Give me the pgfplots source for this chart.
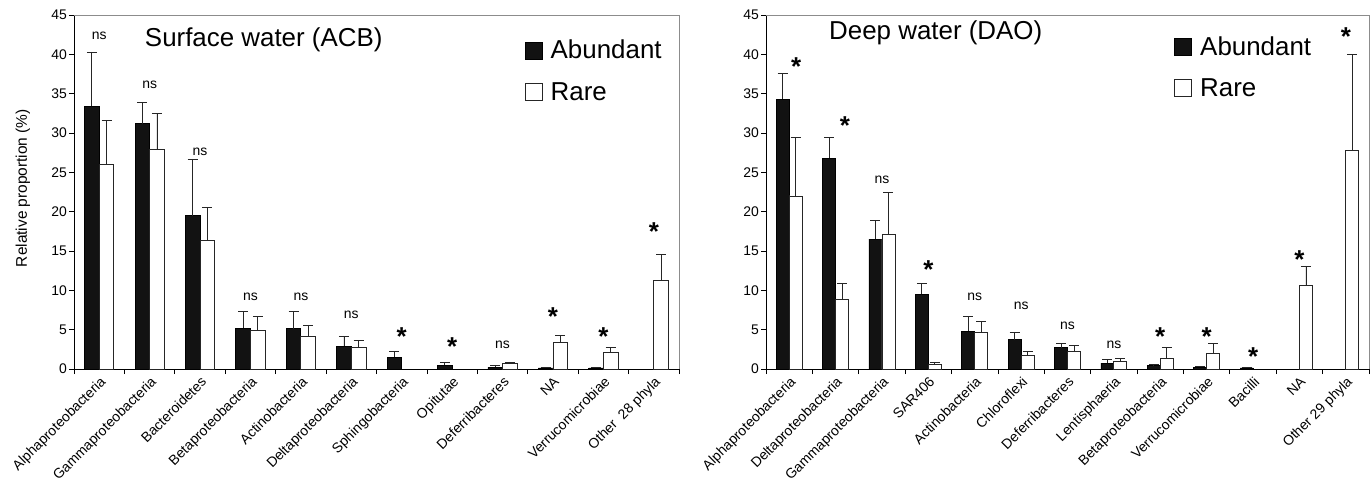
\documentclass[border=0pt]{standalone}
\usepackage{fontspec}
\setmainfont{Liberation Sans}
\usepackage{pgfplots}
\pgfplotsset{compat=1.18}

\pgfplotsset{
  mybase/.style={
    scale only axis, height=354bp, ymin=0, ymax=45, ytick={0,5,...,45},
    axis lines*=left, clip=false,
    tick align=outside, major tick length=5bp, minor tick length=5bp,
    major x tick style={draw=none},
    every tick/.style={black, line width=0.8bp},
    minor tick style={black, line width=0.8bp},
    axis line style={black, line width=0.8bp},
    /pgf/number format/assume math mode=true,
    yticklabel style={font=\fontsize{14}{16}\selectfont, inner sep=2bp},
    xticklabel style={rotate=45, anchor=north east, font=\fontsize{14}{16}\selectfont, inner sep=1bp},
    after end axis/.code={\draw[black!45, line width=0.8bp] (rel axis cs:0,1) -- (rel axis cs:1,1) -- (rel axis cs:1,0);},
    legend image code/.code={\draw[#1, line width=0.8bp] (0bp,0bp) rectangle (17bp,17bp);},
    legend style={draw=none, fill=none, font=\fontsize{26}{28}\selectfont, anchor=north west, inner sep=0pt, column sep=6bp, row sep=18bp, cells={anchor=base west, inner sep=0pt}},
  },
  errs/.style={error bars/.cd, y dir=plus, y explicit,
    error bar style={black!85, line width=0.8bp},
    error mark options={black!85, rotate=90, mark size=5bp, line width=0.8bp}},
  abund/.style={ybar, bar width=#1, bar shift=0pt, fill=black!93, draw=black, line width=0.8bp, errs},
  rare/.style={ybar, bar width=#1, bar shift=0pt, fill=white, draw=black!85, line width=0.8bp, errs},
  nslab/.style={draw=none, mark=none, forget plot, nodes near coords={ns},
    every node near coord/.append style={anchor=base, font=\fontsize{14}{14}\selectfont, inner sep=0pt}},
  starlab/.style={draw=none, mark=none, forget plot, nodes near coords={*},
    every node near coord/.append style={anchor=base, font=\bfseries\fontsize{26}{26}\selectfont, inner sep=0pt}},
}

\begin{document}
\begin{tikzpicture}
\useasboundingbox (0,0) rectangle (1372bp,481bp);

% ---------------- Surface water ----------------
\begin{axis}[mybase, at={(74bp,112bp)}, anchor=south west, width=605bp,
  xmin=-0.5, xmax=11.5,
  xtick={0,...,11},
  minor xtick={-0.5,0.5,...,11.5},
  xticklabels={Alphaproteobacteria, Gammaproteobacteria, Bacteroidetes, Betaproteobacteria, Actinobacteria, Deltaproteobacteria, Sphingobacteria, Opitutae, Deferribacteres, NA, Verrucomicrobiae, Other\ \ 28 phyla},
  ylabel={Relative proportion (\%)},
  every axis y label/.style={at={(axis description cs:-0.0843,0.511)}, rotate=90, anchor=center, font=\fontsize{15.5}{16}\selectfont},
  legend style={at={(rel axis cs:0.745,0.935)}},
]
\addplot[abund=0.29] table[x expr=\thisrow{x}-0.145, y=y, y error=e] {
x y e
0 33.4 6.9
1 31.2 2.7
2 19.5 7.2
3 5.2 2.1
4 5.1 2.2
5 2.9 1.3
6 1.5 0.7
7 0.47 0.38
8 0.2 0.2
9 0.13 0.07
10 0.13 0.07
};
\addlegendentry{Abundant}
\addplot[rare=0.29] table[x expr=\thisrow{x}+0.145, y=y, y error=e] {
x y e
0 26.0 5.6
1 27.9 4.6
2 16.3 4.2
3 4.9 1.8
4 4.2 1.4
5 2.75 0.85
8 0.72 0.18
9 3.4 0.9
10 2.15 0.55
11 11.3 3.3
};
\addlegendentry{Rare}
\addplot[nslab] table {
x y
0 41.85
1 35.65
2 27.15
3 8.75
4 8.75
5 6.45
8 2.65
};
\addplot[starlab] table {
x y
6 2.95
7 1.75
9 5.55
10 2.95
11 16.35
};
\node[anchor=base west, inner sep=0pt, font=\fontsize{26}{28}\selectfont] at (rel axis cs:0.117,0.910) {Surface water (ACB)};
\end{axis}

% ---------------- Deep water ----------------
\begin{axis}[mybase, at={(766bp,112bp)}, anchor=south west, width=603bp,
  xmin=-0.5, xmax=12.5,
  xtick={0,...,12},
  minor xtick={-0.5,0.5,...,12.5},
  xticklabels={Alphaproteobacteria, Deltaproteobacteria, Gammaproteobacteria, SAR406, Actinobacteria, Chloroflexi, Deferribacteres, Lentisphaeria, Betaproteobacteria, Verrucomicrobiae, Bacilli, NA, Other 29 phyla},
  legend style={at={(rel axis cs:0.677,0.946)}},
]
\addplot[abund=0.28] table[x expr=\thisrow{x}-0.14, y=y, y error=e] {
x y e
0 34.3 3.3
1 26.8 2.6
2 16.5 2.4
3 9.5 1.4
4 4.8 1.9
5 3.7 1.0
6 2.7 0.5
7 0.76 0.44
8 0.4 0.2
9 0.25 0.1
10 0.13 0.07
};
\addlegendentry{Abundant}
\addplot[rare=0.28] table[x expr=\thisrow{x}+0.14, y=y, y error=e] {
x y e
0 22.0 7.4
1 8.8 2.1
2 17.1 5.3
3 0.6 0.25
4 4.6 1.4
5 1.7 0.5
6 2.2 0.8
7 1.0 0.35
8 1.4 1.35
9 2.0 1.2
11 10.6 2.5
12 27.75 12.25
};
\addlegendentry{Rare}
\addplot[nslab] table {
x y
2 23.55
4 8.75
5 7.55
6 5.05
7 2.65
};
\addplot[starlab] table {
x y
0.15 37.35
1.2 29.85
3 11.45
8 2.95
9 2.95
10 0.45
11 12.75
12 41.15
};
\node[anchor=base west, inner sep=0pt, font=\fontsize{26}{28}\selectfont] at (rel axis cs:0.1045,0.932) {Deep water (DAO)};
\end{axis}
\end{tikzpicture}
\end{document}
